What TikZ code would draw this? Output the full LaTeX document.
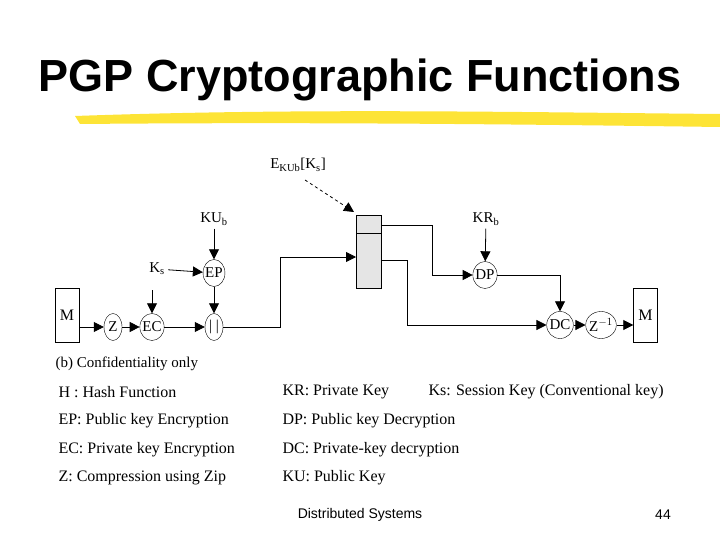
\documentclass[tikz,border=0pt]{standalone}
\usepackage{fontspec}
\setmainfont{Liberation Serif}
\setsansfont{Liberation Sans}
\usetikzlibrary{shapes.geometric,arrows.meta}
\begin{document}
\begin{tikzpicture}[x=1pt,y=-1pt,
  op/.style={draw,ellipse,minimum width=18pt,minimum height=27pt,inner sep=-1pt,font=\fontsize{15}{15}\selectfont},
  box/.style={draw,minimum width=24pt,minimum height=54pt,font=\fontsize{16}{16}\selectfont},
  lab/.style={font=\fontsize{15}{15}\selectfont},
  ar/.style={-{Triangle[length=10pt,width=10pt]},line width=0.8pt},
  leg/.style={anchor=west,font=\fontsize{16}{16}\selectfont}]
\useasboundingbox (0,0) rectangle (720,540);
\node[font=\sffamily\bfseries\fontsize{45}{45}\selectfont] (title) at (360,80) {PGP Cryptographic Functions};
\fill[yellow!80!orange,opacity=0.8] (75,116) .. controls (300,108) and (500,112) .. (720,114) -- (720,127) .. controls (500,124) and (300,122) .. (80,124) -- cycle;
\node[box] (m1) at (67,315) {M};
\node[op] (z) at (113,327) {Z};
\node[op] (ec) at (152,327) {EC};
\node[op] (cat) at (214,327) {| |};
\node[op] (ep) at (214,273) {EP};
\node[lab] (kub) at (214,219) {KU$_\mathrm{b}$};
\node[lab] (ks) at (157,269) {K$_\mathrm{s}$};
\coordinate (ecin) at (152,290);
\draw[ar] (m1.east|-z) -- (z);
\draw[ar] (z) -- (ec);
\draw[ar] (ec) -- (cat);
\draw[ar] (ecin) -- (ec);
\draw[ar] (ks) -- (ep);
\draw[ar] (kub) -- (ep);
\draw[ar] (ep) -- (cat);
\node[draw,fill=gray!20,minimum width=25pt,minimum height=73pt,inner sep=0pt] (mid) at (368.5,251.5) {};
\draw (356,233) -- (381,233);
\coordinate (top) at (381,225);
\coordinate (bot) at (381,260);
\draw[ar] (cat) -- (280,327) -- (280,257) -- (356,257);
\node[lab] (eks) at (298,165) {E$_{\mathrm{KUb}}$[K$_\mathrm{s}$]};
\draw[ar,dashed] (305,180) -- (354,212);
\node[op] (dp) at (485,275) {DP};
\node[lab] (krb) at (486,219) {KR$_\mathrm{b}$};
\node[op] (dc) at (560,325) {DC};
\node[op] (zi) at (601,325) {Z$^{-1}$};
\node[box] (m2) at (645.5,315) {M};
\draw[ar] (top) -- (432,225) -- (432,275) -- (dp);
\draw[ar] (krb) -- (dp);
\draw[ar] (dp) -- (560,275) -- (dc);
\draw[ar] (bot) -- (407,260) -- (407,325) -- (dc);
\draw[ar] (dc) -- (zi);
\draw[ar] (zi) -- (m2.west|-zi);
\node[lab,anchor=west] (cap) at (52,364) {(b) Confidentiality only};
\node[leg] (l1) at (55,392) {H : Hash Function};
\node[leg] (l2) at (55,421) {EP: Public key Encryption};
\node[leg] (l3) at (55,450) {EC: Private key Encryption};
\node[leg] (l4) at (55,478) {Z: Compression using Zip};
\node[leg] (r1) at (279,392) {KR: Private Key};
\node[leg] (r1b) at (425,392) {Ks: Session Key (Conventional key)};
\node[leg] (r2) at (279,421) {DP: Public key Decryption};
\node[leg] (r3) at (279,450) {DC: Private-key decryption};
\node[leg] (r4) at (279,478) {KU: Public Key};
\node[font=\sffamily\fontsize{14}{14}\selectfont] (ds) at (360,515) {Distributed Systems};
\node[font=\sffamily\fontsize{14}{14}\selectfont] (pg) at (663,515) {44};
\end{tikzpicture}
\end{document}
